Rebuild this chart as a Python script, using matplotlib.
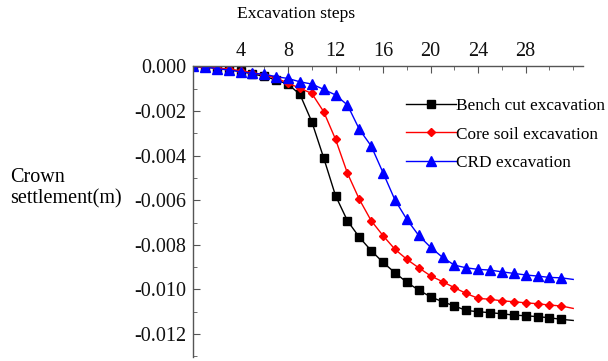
import matplotlib
matplotlib.use("Agg")
import matplotlib.pyplot as plt
from matplotlib.ticker import MultipleLocator, FormatStrFormatter

plt.rcParams["font.family"] = ["Liberation Serif", "DejaVu Serif"]
plt.rcParams["axes.unicode_minus"] = False

steps = list(range(0, 33))

bench_cut = [0.0, -0.00003, -0.00008, -0.00014, -0.00022, -0.00033, -0.00045, -0.00060,
             -0.00080, -0.00125, -0.00248, -0.00410, -0.00580, -0.00692, -0.00766, -0.00826,
             -0.00879, -0.00925, -0.00968, -0.01003, -0.01033, -0.01055, -0.01074, -0.01094,
             -0.01100, -0.01104, -0.01109, -0.01115, -0.01118, -0.01122, -0.01127, -0.01134,
             -0.01139]

core_soil = [0.0, -0.00003, -0.00007, -0.00012, -0.00019, -0.00028, -0.00038, -0.00052,
             -0.00075, -0.00098, -0.00121, -0.00203, -0.00327, -0.00479, -0.00596, -0.00692,
             -0.00759, -0.00820, -0.00865, -0.00903, -0.00939, -0.00965, -0.00992, -0.01018,
             -0.01040, -0.01044, -0.01051, -0.01055, -0.01060, -0.01064, -0.01070, -0.01074,
             -0.01085]

crd = [0.0, -0.00002, -0.00010, -0.00016, -0.00024, -0.00031, -0.00035, -0.00046,
       -0.00054, -0.00069, -0.00079, -0.00103, -0.00128, -0.00173, -0.00282, -0.00357,
       -0.00477, -0.00599, -0.00686, -0.00758, -0.00811, -0.00856, -0.00891, -0.00903,
       -0.00910, -0.00913, -0.00921, -0.00928, -0.00935, -0.00940, -0.00946, -0.00948,
       -0.00955]

SERIES = [
    ("Bench cut excavation", bench_cut, "black", "s", 5.5),
    ("Core soil excavation", core_soil, "red", "D", 4.5),
    ("CRD excavation", crd, "blue", "^", 7),
]

fig = plt.figure(figsize=(6.08, 3.61), dpi=100)
ax = fig.add_axes([0.3174, 0.011, 0.641, 0.805])

for label, vals, color, marker, ms in SERIES:
    ax.plot(steps, vals, color=color, linewidth=1.0, marker=marker, markersize=ms,
            markevery=list(range(0, 32)), label=label)

ax.set_xlim(0, 32.8)
ax.set_ylim(-0.01303, 0)

ax.xaxis.tick_top()
ax.xaxis.set_minor_locator(MultipleLocator(2))
ax.set_xticks([4, 8, 12, 16, 20, 24, 28])
ax.yaxis.set_major_locator(MultipleLocator(0.002))
ax.yaxis.set_minor_locator(MultipleLocator(0.001))
ax.yaxis.set_major_formatter(FormatStrFormatter("%.3f"))

for side in ("bottom", "right"):
    ax.spines[side].set_visible(False)
for side in ("top", "left"):
    ax.spines[side].set_color("#555555")
    ax.spines[side].set_linewidth(1.0)

ax.tick_params(axis="both", which="both", direction="in", color="#555555",
               labelsize=14.5, labelcolor="#111111")
ax.tick_params(axis="both", which="major", length=5)
ax.tick_params(axis="both", which="minor", length=3)
ax.tick_params(axis="x", pad=4)
ax.tick_params(axis="y", pad=5)

fig.text(296 / 608, 1 - 14 / 361, "Excavation steps", ha="center", va="center", fontsize=12.6)
fig.text(10 / 608, 1 - 188 / 361, "Crown\nsettlement(m)", ha="left", va="center",
         fontsize=14.5, linespacing=1.15)

ax.legend(loc="upper left", bbox_to_anchor=(0.53, 0.915), frameon=False, fontsize=12.4,
          numpoints=1, handlelength=2.9, handletextpad=0.0, labelspacing=0.72,
          borderaxespad=0.0)

fig.savefig("out.png", dpi=100)
